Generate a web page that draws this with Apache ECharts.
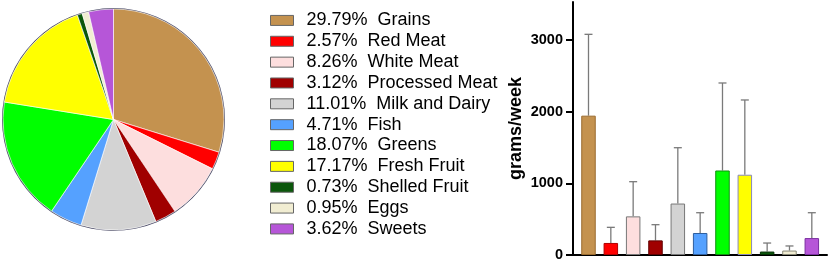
<!DOCTYPE html>
<html>
<head>
<meta charset="utf-8">
<script src="https://cdn.jsdelivr.net/npm/echarts@6/dist/echarts.min.js"></script>
<style>
html,body{margin:0;padding:0;background:#fff;}
#c{width:829px;height:264px;}
</style>
</head>
<body>
<div id="c"></div>
<script>
var categories = ['Grains','Red Meat','White Meat','Processed Meat','Milk and Dairy','Fish','Greens','Fresh Fruit','Shelled Fruit','Eggs','Sweets'];
var percents = [29.79, 2.57, 8.26, 3.12, 11.01, 4.71, 18.07, 17.17, 0.73, 0.95, 3.62];
var percentLabels = ['29.79','2.57','8.26','3.12','11.01','4.71','18.07','17.17','0.73','0.95','3.62'];
var meanGramsWeek = [1944, 168, 539, 204, 718, 307, 1179, 1120, 48, 62, 236];
var sdGramsWeek = [1135, 218, 484, 219, 779, 283, 1221, 1043, 119, 64, 354];
var yTicks = [0, 1000, 2000, 3000];

var fills = ['#C4924F','#FF0000','#FDDEDE','#A00000','#D3D3D3','#55A1FF','#00FF00','#FFFF00','#0B570B','#F1EDD2','#B656D8'];
var borders = ['#9A6B2E','#B00000','#777777','#600000','#777777','#2E5E9E','#109010','#8888BB','#033003','#888877','#7A2FA0'];

var FONT = 'Liberation Sans, Arial, sans-serif';
var chart = echarts.init(document.getElementById('c'), null, {renderer:'canvas'});

var pieData = categories.map(function(n,i){
  return {name:n, value:percents[i], itemStyle:{color:fills[i]}};
});
var barData = meanGramsWeek.map(function(v,i){
  return {value:[i, v], itemStyle:{color:fills[i], borderColor:borders[i], borderWidth:1}};
});
var errData = meanGramsWeek.map(function(v,i){ return [i, v, v + sdGramsWeek[i]]; });

chart.setOption({
  animation:false,
  backgroundColor:'#fff',
  textStyle:{fontFamily:FONT},
  legend:{
    data:categories,
    orient:'vertical',
    left:270, top:10,
    padding:0,
    itemWidth:23, itemHeight:10,
    itemGap:0,
    icon:'rect',
    itemStyle:{borderColor:'#666', borderWidth:1},
    selectedMode:false,
    textStyle:{fontFamily:FONT, fontSize:18, color:'#000', lineHeight:20.85, padding:[0,0,0,8]},
    formatter:function(name){
      var i = categories.indexOf(name);
      return percentLabels[i] + '%  ' + name;
    }
  },
  grid:{left:573, width:254, top:2, bottom:9, containLabel:false},
  xAxis:{
    type:'value', min:-0.694, max:10.68,
    axisLine:{show:true, onZero:false, lineStyle:{color:'#000', width:2}},
    axisTick:{show:false}, axisLabel:{show:false}, splitLine:{show:false}
  },
  yAxis:{
    type:'value', min:0, max:3530,
    name:'grams/week', nameLocation:'middle', nameGap:48,
    nameTextStyle:{fontFamily:FONT, fontSize:18, fontWeight:'bold', color:'#000'},
    axisLine:{show:true, onZero:false, lineStyle:{color:'#000', width:2}},
    axisTick:{show:true, length:7, lineStyle:{color:'#000', width:2}, customValues:yTicks},
    axisLabel:{fontFamily:FONT, fontSize:14.5, fontWeight:'bold', color:'#000', margin:10, customValues:yTicks,
      formatter:function(v){ return String(v); }},
    splitLine:{show:false}
  },
  series:[
    {
      type:'pie', name:'outline', silent:true,
      center:[113.5,119.5], radius:[110,111.5],
      startAngle:90, clockwise:true,
      label:{show:false}, labelLine:{show:false},
      data:[{name:'_ring', value:1, itemStyle:{color:'#4a4a66'}}],
      legendHoverLink:false
    },
    {
      type:'pie', name:'share',
      center:[113.5,119.5], radius:[0,110.5],
      startAngle:90, clockwise:true,
      label:{show:false}, labelLine:{show:false},
      itemStyle:{borderColor:'#ffffff', borderWidth:0.6},
      emphasis:{disabled:true},
      data:pieData
    },
    {
      type:'custom', name:'err',
      renderItem:function(params, api){
        var x = api.value(0);
        var top = api.coord([x, api.value(2)]);
        var bot = api.coord([x, api.value(1)]);
        var cap = 4;
        return {type:'group', children:[
          {type:'line', shape:{x1:top[0], y1:bot[1], x2:top[0], y2:top[1]}, style:{stroke:'#7a7a7a', lineWidth:1.3}},
          {type:'line', shape:{x1:top[0]-cap, y1:top[1], x2:top[0]+cap, y2:top[1]}, style:{stroke:'#7a7a7a', lineWidth:1.3}}
        ]};
      },
      encode:{x:0, y:[1,2]},
      data:errData, z:1
    },
    {
      type:'bar', name:'mean', barWidth:14.5,
      data:barData, z:2
    }
  ]
});
</script>
</body>
</html>
